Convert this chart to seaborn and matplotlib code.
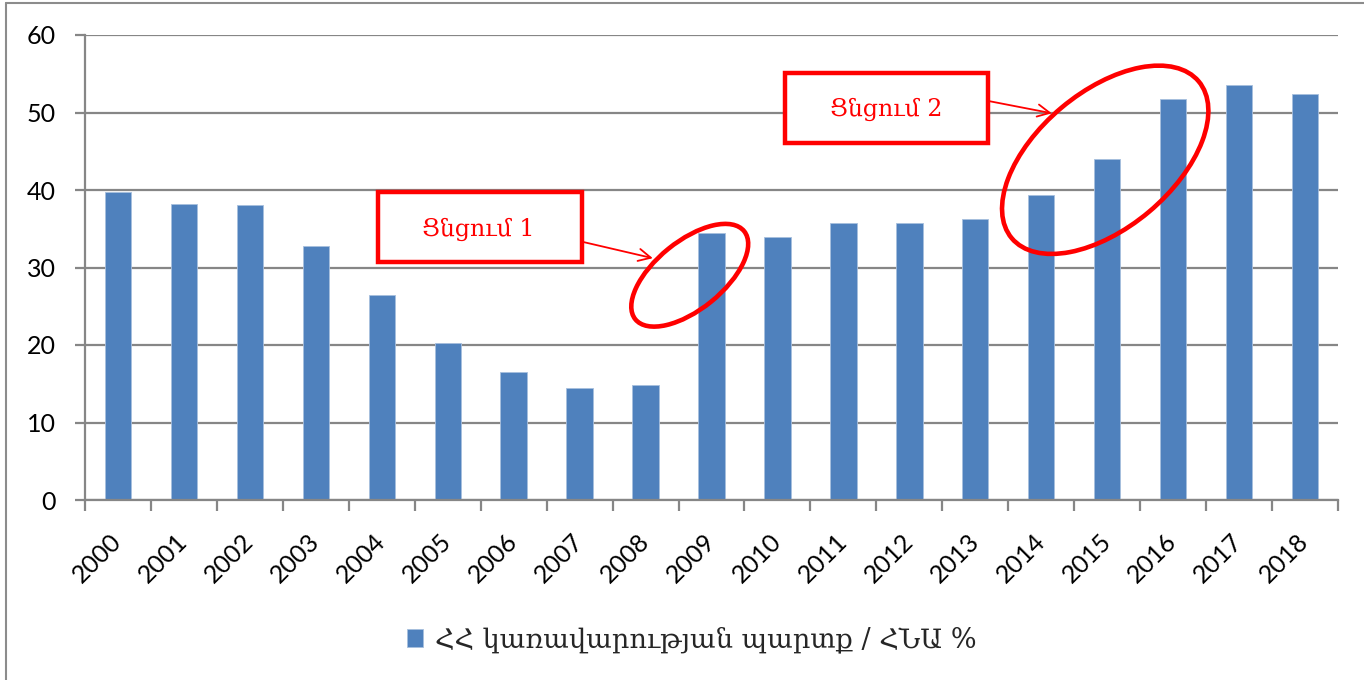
import matplotlib
matplotlib.use("Agg")
import matplotlib.pyplot as plt
import matplotlib.transforms as mtransforms
from matplotlib.patches import Ellipse, Rectangle
from matplotlib.lines import Line2D
import seaborn as sns
import pandas as pd

years = [str(y) for y in range(2000, 2019)]
debt_share = [39.7, 38.2, 38.1, 32.8, 26.4, 20.3, 16.5, 14.5, 14.8, 34.5,
              34.0, 35.8, 35.7, 36.2, 39.3, 44.0, 51.8, 53.6, 52.4]
legend_label = "ՀՀ կառավարության պարտք / ՀՆԱ %"
yticks = [0, 10, 20, 30, 40, 50, 60]
note1 = "Ցնցում 1"
note2 = "Ցնցում 2"

df = pd.DataFrame({"year": years, "value": debt_share})

sns.set_theme(style="white")
plt.rcParams["font.family"] = ["Lato", "DejaVu Sans"]

BLUE = "#4F81BD"
GRID = "#868686"
RED = "#FF0000"

fig = plt.figure(figsize=(13.64, 6.80), dpi=100)
ax = fig.add_axes([85 / 1364, 1 - 500 / 680, (1338 - 85) / 1364, (500 - 35) / 680])

sns.barplot(data=df, x="year", y="value", color=BLUE, width=0.4, ax=ax,
            saturation=1, label=legend_label, edgecolor="#A7BFDE", linewidth=0.6)
handles, labels = ax.get_legend_handles_labels()
if ax.get_legend() is not None:
    ax.get_legend().remove()

ax.set_xlim(-0.5, len(years) - 0.5)
ax.set_ylim(0, 60)
ax.set_yticks(yticks)
ax.set_xlabel("")
ax.set_ylabel("")
ax.yaxis.grid(True, color=GRID, linewidth=1.6)
ax.xaxis.grid(False)
ax.set_axisbelow(True)
for s in ["top", "right"]:
    ax.spines[s].set_visible(False)
for s in ["left", "bottom"]:
    ax.spines[s].set_color(GRID)
    ax.spines[s].set_linewidth(1.6)

ax.tick_params(axis="y", which="major", length=7, width=1.6, color=GRID,
               labelsize=18, pad=14, left=True, labelcolor="black")
ax.tick_params(axis="x", which="major", length=0, labelsize=18, pad=27, labelcolor="black")
ax.set_xticks([i - 0.5 for i in range(len(years) + 1)], minor=True)
ax.tick_params(axis="x", which="minor", length=8, width=1.6, color=GRID, bottom=True)
for lbl in ax.get_xticklabels():
    lbl.set_rotation(45)
    lbl.set_ha("right")
    lbl.set_va("center")
    lbl.set_rotation_mode("anchor")

serif = ["DejaVu Serif", "DejaVu Sans"]

# Callout boxes (data coordinates)
ax.add_patch(Rectangle((3.94, 30.7), 3.1, 9.0, facecolor="white", edgecolor=RED,
                       linewidth=3.2, clip_on=False, zorder=5))
ax.text(5.47, 34.9, note1, color=RED, fontsize=17, family=serif,
        ha="center", va="center", zorder=6)
ax.add_patch(Rectangle((10.11, 46.1), 3.08, 9.0, facecolor="white", edgecolor=RED,
                       linewidth=3.2, clip_on=False, zorder=5))
ax.text(11.65, 50.4, note2, color=RED, fontsize=17, family=serif,
        ha="center", va="center", zorder=6)

ax.annotate("", xy=(8.11, 31.2), xytext=(7.05, 33.3),
            arrowprops=dict(arrowstyle="->", color=RED, lw=1.3,
                            mutation_scale=22, shrinkA=0, shrinkB=0), zorder=6)
ax.annotate("", xy=(14.16, 49.9), xytext=(13.19, 51.5),
            arrowprops=dict(arrowstyle="->", color=RED, lw=1.3,
                            mutation_scale=22, shrinkA=0, shrinkB=0), zorder=6)

# Ellipses (center in data, size in inches)
for (xd, yd, w, h, ang) in [(8.67, 29.0, 1.40, 0.68, 39), (14.97, 43.9, 2.44, 1.36, 40)]:
    tr = fig.dpi_scale_trans + mtransforms.ScaledTranslation(xd, yd, ax.transData)
    ax.add_patch(Ellipse((0, 0), w, h, angle=ang, transform=tr, fill=False,
                         edgecolor=RED, linewidth=3.3, clip_on=False, zorder=6))

fig.legend(handles, labels, loc="center", bbox_to_anchor=(0.507, 1 - 640 / 680),
           frameon=False, handlelength=0.6, handleheight=0.6, handletextpad=0.45,
           prop={"family": serif, "size": 19.5})

# chart-area border (left and top edges visible)
fig.add_artist(Line2D([6 / 1364, 6 / 1364], [0, 1 - 3 / 680], transform=fig.transFigure,
                      color="#8C8C8C", linewidth=1.5))
fig.add_artist(Line2D([6 / 1364, 1], [1 - 3 / 680, 1 - 3 / 680], transform=fig.transFigure,
                      color="#8C8C8C", linewidth=1.5))

fig.savefig("out.png", dpi=100)
